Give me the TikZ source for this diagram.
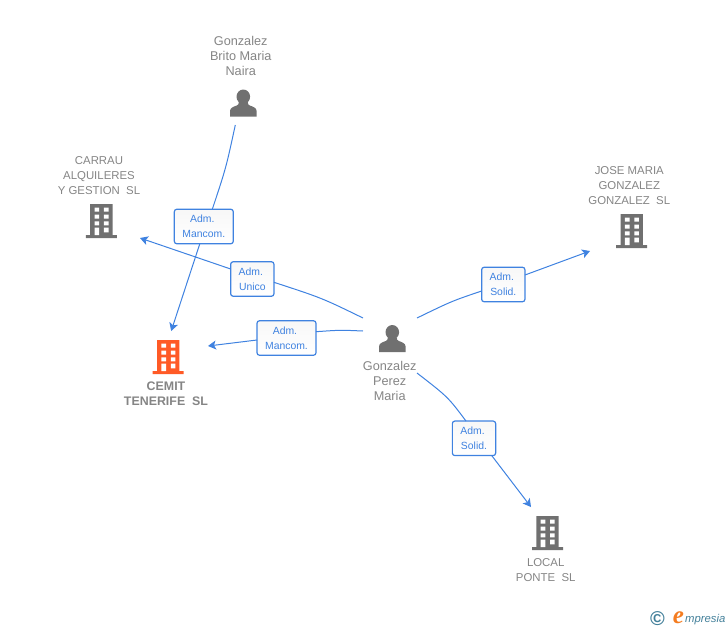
\documentclass[tikz,border=0pt]{standalone}
\usepackage{fontspec}
\setmainfont{Liberation Sans}
\newfontfamily\logofont{Liberation Serif}
\usetikzlibrary{arrows.meta}
\definecolor{linkblue}{HTML}{3F82E0}
\definecolor{textgray}{HTML}{858585}
\definecolor{icongray}{HTML}{707070}
\definecolor{cemitorange}{HTML}{FF5A26}
\definecolor{logoteal}{HTML}{43809A}
\definecolor{logoorange}{HTML}{F47C20}
\tikzset{
  halo/.style={inner sep=0pt, outer sep=0pt},
  link/.style={draw=linkblue, line width=1pt},
  tolink/.style={link, -{Stealth[length=8pt,width=9pt,inset=2pt]}},
  role/.style={draw=linkblue, line width=1.2pt, rounded corners=2.5pt, top color=black!3, bottom color=white,
    text=linkblue, font=\fontsize{10.4}{15}\selectfont, align=center, inner sep=0pt, outer sep=0pt, minimum height=34.5pt},
  company/.style={text=textgray, font=\fontsize{11.4}{15}\selectfont, align=center, inner sep=0pt},
  mainname/.style={text=textgray, font=\fontsize{12.4}{15}\selectfont\bfseries, align=center, inner sep=0pt},
  person/.style={text=textgray, font=\fontsize{12.7}{15}\selectfont, align=center, inner sep=0pt},
  pics/buildingicon/.style={code={
    \fill[#1] (-11.2,-17) rectangle (11.2,15) (-15.5,14) rectangle (15.5,17);
    \foreach \y in {-13.3,-6.5,0.3} {
      \fill[white] (-6.8,\y) rectangle (-2.2,\y+4) (2.6,\y) rectangle (7.2,\y+4);
    }
    \fill[white] (-6.8,6.6) rectangle (-2.2,14) (2.6,6.6) rectangle (7.2,11.4);
  }},
  pics/personicon/.style={code={
    \fill[icongray] (0,-6.3) ellipse (6.8 and 7.2);
    \fill[icongray] (-13.3,13.5) -- (-13.3,8) .. controls (-13.3,4.5) and (-9,3.5) .. (-6.5,2.5) .. controls (-5,2) and (-4.5,1) .. (-4.5,-1) -- (4.5,-1) .. controls (4.5,1) and (5,2) .. (6.5,2.5) .. controls (9,3.5) and (13.3,4.5) .. (13.3,8) -- (13.3,13.5) -- cycle;
  }}
}
\begin{document}
\begin{tikzpicture}[x=1pt, y=-1pt]
      \useasboundingbox (0, 0) rectangle (728, 630);

      \node[halo, minimum width=54pt, minimum height=55pt](PerMaria) at (390, 345.5) {};
      \node[halo, minimum width=20pt, minimum height=44pt](PerBrito) at (243.3, 103) {};
      \node[halo, minimum width=77.4pt, minimum height=34pt](CoCarrau) at (101.3, 221) {};
      \node[halo, minimum width=79.6pt, minimum height=52pt](CoCemit) at (168.2, 357) {};
      \node[halo, minimum width=83.4pt, minimum height=40pt](CoJose) at (631.7, 231) {};
      \node[halo, minimum width=33pt, minimum height=52pt](CoLocal) at (547.5, 533) {};

      \pic at (392.3, 338.5) {personicon};
      \pic at (243.3, 103) {personicon};
      \pic at (101.3, 221) {buildingicon=icongray};
      \pic at (168.2, 357) {buildingicon=cemitorange};
      \pic at (631.7, 231) {buildingicon=icongray};
      \pic at (547.5, 533) {buildingicon=icongray};

      \node[person](TxtBrito) at (240.7, 56) {Gonzalez\\Brito Maria\\Naira};
      \node[person](TxtMaria) at (389.7, 381) {Gonzalez\\Perez\\Maria};
      \node[company](TxtCarrau) at (99, 175.7) {CARRAU\\ALQUILERES\\Y GESTION~~SL};
      \node[mainname](TxtCemit) at (166, 393.5) {CEMIT\\TENERIFE~~SL};
      \node[company](TxtJose) at (629.3, 185.7) {JOSE MARIA\\GONZALEZ\\GONZALEZ~~SL};
      \node[company](TxtLocal) at (545.7, 570) {LOCAL\\PONTE~~SL};

      \node[role, minimum width=59pt](RoleBrito) at (203.8, 226.5) {Adm.\kern3pt\\Mancom.};
      \node[role, minimum width=43.3pt](RoleCarrau) at (252.3, 279) {Adm.\kern3pt\\Unico};
      \node[role, minimum width=59pt](RoleCemit) at (286.5, 338) {Adm.\kern3pt\\Mancom.};
      \node[role, minimum width=43.3pt](RoleJose) at (503.3, 284.5) {Adm.\kern3pt\\Solid.};
      \node[role, minimum width=43.3pt](RoleLocal) at (474, 438.3) {Adm.\kern3pt\\Solid.};

      \draw[link] ([xshift=-8pt]PerBrito.south) .. controls (226, 168) .. ([xshift=8.5pt]RoleBrito.north);
      \draw[tolink] ([xshift=-4pt]RoleBrito.south) -- ([xshift=3pt]CoCemit.north);
      \draw[link] (PerMaria.north west) .. controls (322, 298) .. ([yshift=-3.3pt]RoleCarrau.east);
      \draw[tolink] ([yshift=10pt]RoleCarrau.west) -- (CoCarrau.south east);
      \draw[link] ([yshift=14.5pt]PerMaria.west) .. controls (340, 330) .. ([yshift=6.3pt]RoleCemit.east);
      \draw[tolink] ([yshift=-2pt]RoleCemit.west) -- ([yshift=11pt]CoCemit.east);
      \draw[link] (PerMaria.north east) .. controls (452, 301) .. ([yshift=-6.5pt]RoleJose.west);
      \draw[tolink] ([yshift=9.5pt]RoleJose.east) -- (CoJose.south west);
      \draw[link] (PerMaria.south east) .. controls (448, 397) .. ([xshift=-8pt]RoleLocal.north);
      \draw[tolink] ([xshift=17.7pt]RoleLocal.south) -- (CoLocal.north west);

      \node[text=logoteal, inner sep=0pt, font=\fontsize{20}{20}\selectfont\bfseries](LogoCopy) at (657.5, 619) {©};
      \node[text=logoorange, inner sep=0pt, font=\logofont\itshape\bfseries\fontsize{25}{25}\selectfont](LogoE) at (678.5, 618) {e};
      \node[text=logoteal, inner sep=0pt, anchor=west, font=\itshape\fontsize{11.3}{14}\selectfont](LogoName) at (685, 619.5) {mpresia};
    \end{tikzpicture}
\end{document}
